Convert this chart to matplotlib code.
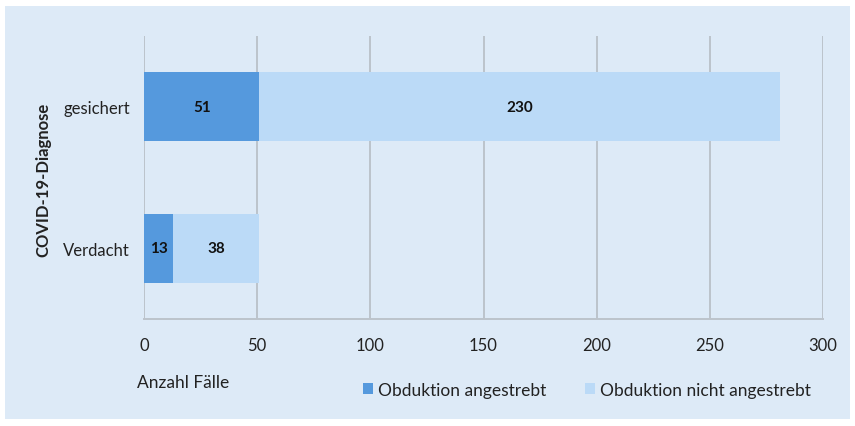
import matplotlib
matplotlib.use("Agg")
import matplotlib.pyplot as plt
from matplotlib.patches import Rectangle

categories = ["Verdacht", "gesichert"]
angestrebt = [13, 51]
nicht_angestrebt = [38, 230]
series_names = ["Obduktion angestrebt", "Obduktion nicht angestrebt"]
xticks = [0, 50, 100, 150, 200, 250, 300]

plt.rcParams['font.family'] = ['Lato', 'DejaVu Sans']

bg = "#DDEAF7"
c_dark = "#5599DD"
c_light = "#BBDAF7"
grid_c = "#BCC3CB"
txt_c = "#222222"

fig = plt.figure(figsize=(8.55, 4.27), dpi=100)
fig.patch.set_facecolor("white")
fig.patches.append(Rectangle((5/855, 7/427), 845/855, 413/427, transform=fig.transFigure,
                             facecolor=bg, edgecolor="none", zorder=-10))

ax = fig.add_axes([144/855, 1-320/427, (823-144)/855, (320-37)/427])
ax.set_facecolor("none")
y = list(range(len(categories)))
h = 0.49
b1 = ax.barh(y, angestrebt, height=h, color=c_dark, label=series_names[0], zorder=3)
b2 = ax.barh(y, nicht_angestrebt, left=angestrebt, height=h, color=c_light, label=series_names[1], zorder=3)
for bars, vals, lefts in ((b1, angestrebt, [0]*len(y)), (b2, nicht_angestrebt, angestrebt)):
    for yi, v, l in zip(y, vals, lefts):
        ax.text(l + v/2, yi, str(v), ha="center", va="center", fontsize=11,
                fontweight="bold", color="#111111", zorder=4)

ax.set_xlim(0, 300)
ax.set_ylim(-0.5, 1.5)
ax.set_xticks(xticks)
ax.set_yticks(y)
ax.set_yticklabels(categories)
ax.xaxis.grid(True, color=grid_c, linewidth=1.4, zorder=0)
ax.yaxis.grid(False)
for s in ["top", "right", "left"]:
    ax.spines[s].set_visible(False)
ax.spines["bottom"].set_color(grid_c)
ax.spines["bottom"].set_linewidth(1.4)
ax.tick_params(axis="both", length=0, labelsize=12, colors=txt_c)
ax.tick_params(axis="x", pad=13)
ax.tick_params(axis="y", pad=10)

fig.text(43/855, 1-180/427, "COVID-19-Diagnose", rotation=90, ha="center", va="center",
         fontsize=12, fontweight="bold", color=txt_c)
fig.text(137/855, 1-383/427, "Anzahl Fälle", ha="left", va="center", fontsize=12.5, color=txt_c)

leg = fig.legend(handles=[b1, b2], labels=series_names, loc="center left",
                 bbox_to_anchor=(347/855, 1-391/427), ncol=2, frameon=False,
                 fontsize=12.5, handlelength=0.6, handleheight=0.6, handletextpad=0.3,
                 columnspacing=2.2, labelcolor=txt_c)

fig.savefig("out.png", dpi=100, facecolor="white")
